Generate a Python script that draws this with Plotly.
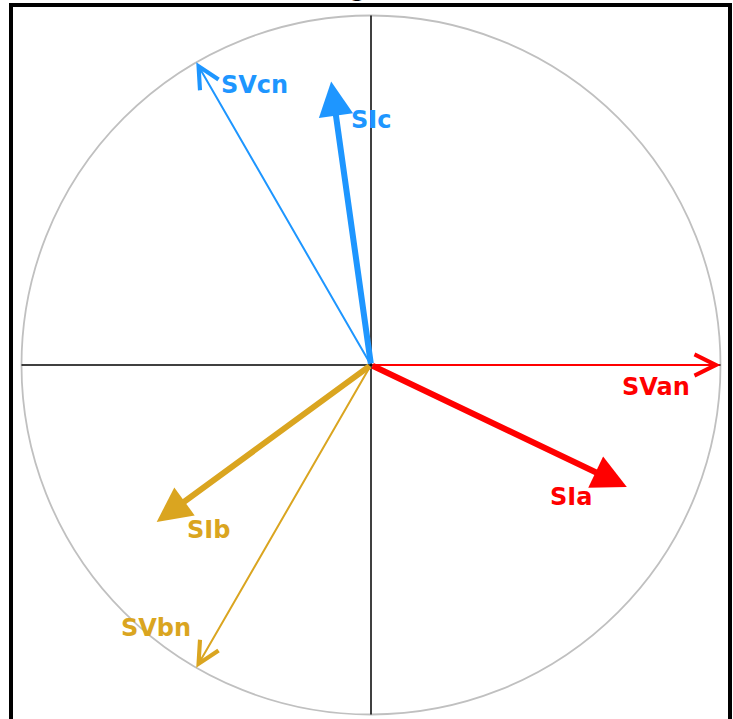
import math
import plotly.graph_objects as go

# Phasor data: names, magnitudes (per unit of circle radius), angles (degrees)
names = ["SVan", "SIa", "SVbn", "SIb", "SVcn", "SIc"]
magnitudes = [1.0, 0.811, 1.0, 0.76, 1.0, 0.819]
angles_deg = [0.0, -25.5, -120.0, -143.8, 120.0, 98.0]
colors = ["#FF0000", "#FF0000", "#DAA520", "#DAA520", "#1E96FF", "#1E96FF"]
kinds = ["V", "I", "V", "I", "V", "I"]
# label pixel offsets from the phasor tip (x right, y up)
label_dx = [-65, -56, -40, 52, 58, 40]
label_dy = [-22, -10, 40, -8, -23, -38]

title_text = "Phasor Diagram"

W, H = 733, 719
ml, mr, mt, mb = 13, 5, 7, 0
cx, cy, ppu = 371, 365, 349.5
xr = [(ml - cx) / ppu, (W - mr - cx) / ppu]
yr = [-(H - mb - cy) / ppu, (cy - mt) / ppu]

fig = go.Figure()
fig.add_trace(go.Scatter(x=[0], y=[0], mode="markers", marker=dict(size=1, color="rgba(0,0,0,0)"),
                         hoverinfo="skip", showlegend=False))

# reference circle and axes
fig.add_shape(type="circle", xref="x", yref="y", x0=-1, y0=-1, x1=1, y1=1,
              line=dict(color="#C0C0C0", width=1.8))
fig.add_shape(type="line", xref="x", yref="y", x0=-1, y0=0, x1=1, y1=0,
              line=dict(color="black", width=1.5))
fig.add_shape(type="line", xref="x", yref="y", x0=0, y0=-1, x1=0, y1=1,
              line=dict(color="black", width=1.5))

annotations = []
order = [0, 2, 4, 1, 3, 5]
for i in order:
    a = math.radians(angles_deg[i])
    x = magnitudes[i] * math.cos(a)
    y = magnitudes[i] * math.sin(a)
    if kinds[i] == "V":
        style = dict(arrowhead=5, arrowwidth=2, arrowsize=2.1)
    else:
        style = dict(arrowhead=2, arrowwidth=6, arrowsize=1.15)
    annotations.append(dict(x=x, y=y, xref="x", yref="y", ax=0, ay=0, axref="x", ayref="y",
                            text="", showarrow=True, arrowcolor=colors[i], font=dict(size=1),
                            standoff=0, startstandoff=0, **style))
for i in range(len(names)):
    a = math.radians(angles_deg[i])
    x = magnitudes[i] * math.cos(a)
    y = magnitudes[i] * math.sin(a)
    annotations.append(dict(x=x, y=y, xref="x", yref="y", text="<b>%s</b>" % names[i],
                            showarrow=False, xshift=label_dx[i], yshift=label_dy[i],
                            font=dict(family="DejaVu Sans", size=24, color=colors[i])))

annotations.append(dict(x=(214 - ml) / (W - ml - mr), y=1, xref="paper", yref="paper",
                        xanchor="left", yanchor="bottom", yshift=3, showarrow=False,
                        text="<b>%s</b>" % title_text,
                        font=dict(family="DejaVu Sans", size=22, color="black")))

fig.update_layout(
    width=W, height=H, autosize=False,
    margin=dict(l=ml, r=mr, t=mt, b=mb, pad=0),
    paper_bgcolor="white", plot_bgcolor="white",
    showlegend=False,
    annotations=annotations,
    xaxis=dict(range=xr, showgrid=False, zeroline=False, showticklabels=False, ticks="",
               showline=True, linecolor="black", linewidth=4, side="top", mirror=False,
               fixedrange=True),
    yaxis=dict(range=yr, showgrid=False, zeroline=False, showticklabels=False, ticks="",
               showline=True, linecolor="black", linewidth=4, mirror=True,
               fixedrange=True),
)

fig.write_html("out.html", config={"displayModeBar": False},
               post_script="document.body.style.margin='0';document.body.style.overflow='hidden';")
